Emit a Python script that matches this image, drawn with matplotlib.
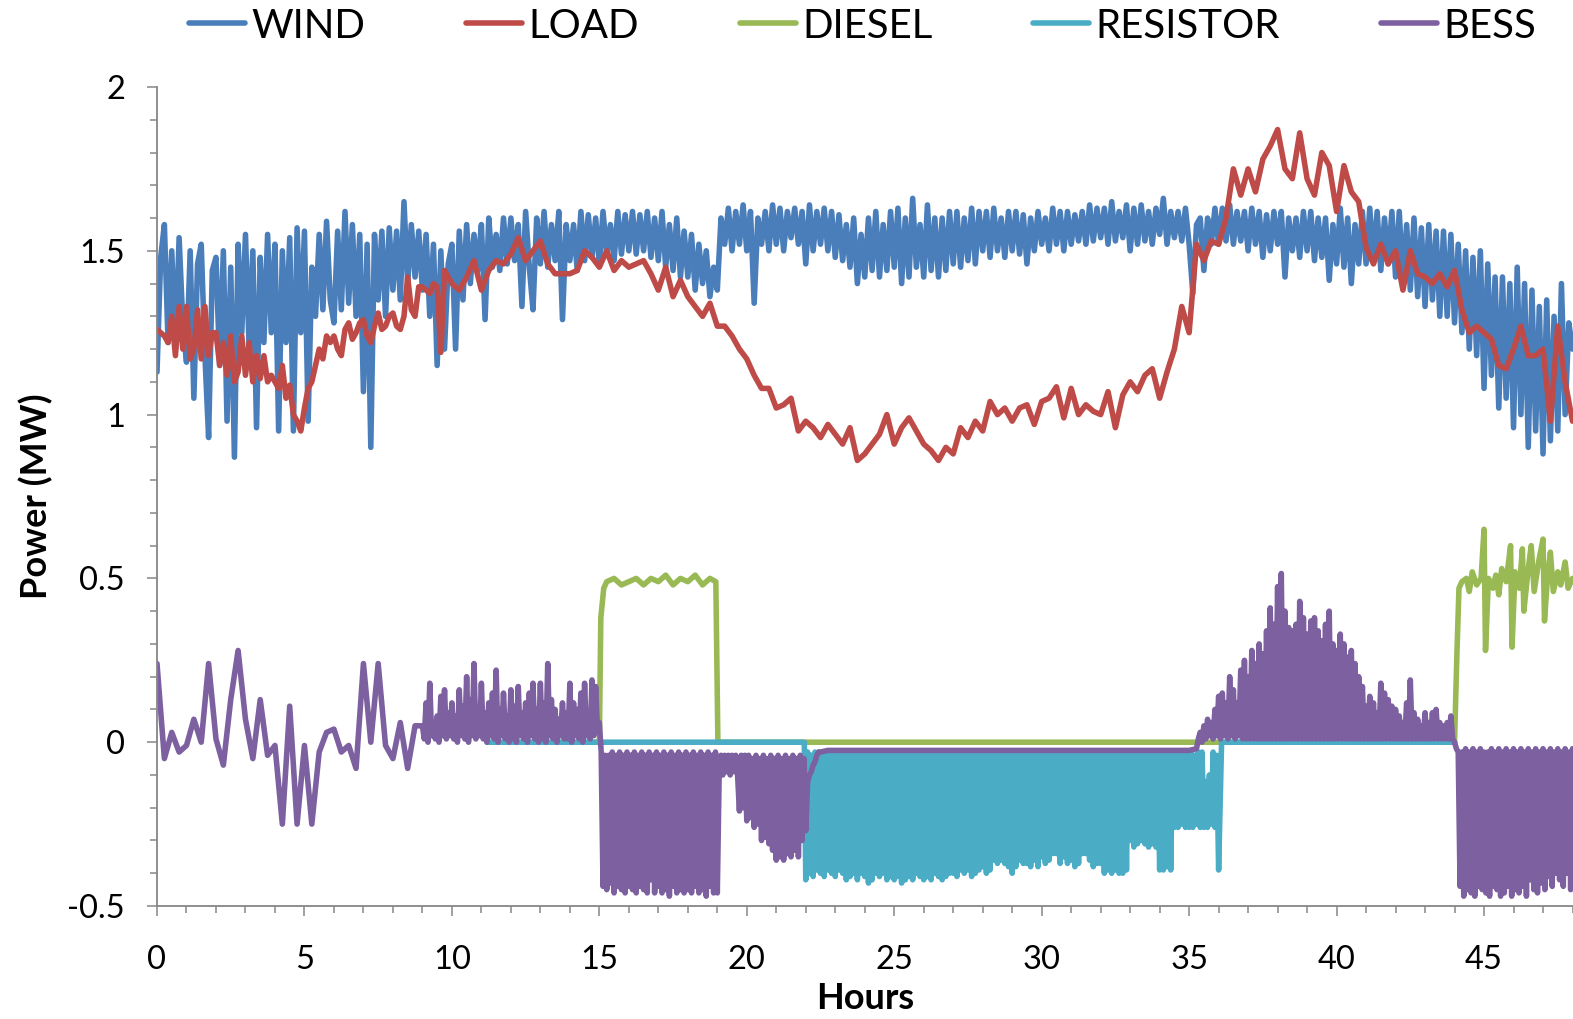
import numpy as np
import matplotlib
matplotlib.use("Agg")
import matplotlib.pyplot as plt
from matplotlib.ticker import MultipleLocator, FixedLocator, FixedFormatter

plt.rcParams['font.family'] = ['Lato', 'DejaVu Sans']

# ---------------- data (MW) ----------------
SERIES = ["WIND", "LOAD", "DIESEL", "RESISTOR", "BESS"]
COLORS = ["#4A7EBB", "#BE4B48", "#98B954", "#4BACC6", "#7D60A0"]

# WIND sampled every 0.125 h from 0 to 48 h (one row = 2 h)
WIND_STEP = 0.125
WIND = [
    1.13, 1.48, 1.58, 1.22, 1.50, 1.20, 1.54, 1.28, 1.16, 1.50, 1.05, 1.46, 1.52, 1.18, 0.93, 1.44,
    1.48, 1.15, 1.50, 0.98, 1.45, 0.87, 1.52, 1.25, 1.55, 1.20, 1.50, 0.96, 1.48, 1.22, 1.55, 1.25,
    1.52, 0.95, 1.50, 1.22, 1.54, 0.95, 1.57, 1.25, 1.56, 0.98, 1.45, 1.30, 1.55, 1.32, 1.59, 1.35,
    1.28, 1.56, 1.32, 1.62, 1.34, 1.58, 1.30, 1.55, 1.07, 1.52, 0.90, 1.55, 1.35, 1.56, 1.30, 1.57,
    1.38, 1.56, 1.35, 1.65, 1.40, 1.58, 1.42, 1.56, 1.38, 1.55, 1.30, 1.52, 1.15, 1.50, 1.20, 1.46,
    1.52, 1.20, 1.56, 1.35, 1.58, 1.40, 1.55, 1.44, 1.58, 1.29, 1.60, 1.45, 1.55, 1.44, 1.60, 1.46,
    1.60, 1.47, 1.58, 1.33, 1.62, 1.45, 1.32, 1.60, 1.46, 1.62, 1.45, 1.58, 1.47, 1.62, 1.29, 1.58,
    1.47, 1.58, 1.44, 1.62, 1.47, 1.61, 1.48, 1.60, 1.46, 1.62, 1.49, 1.58, 1.47, 1.62, 1.49, 1.61,
    1.50, 1.62, 1.49, 1.61, 1.50, 1.62, 1.48, 1.60, 1.47, 1.62, 1.45, 1.58, 1.44, 1.60, 1.42, 1.56,
    1.42, 1.55, 1.38, 1.52, 1.40, 1.50, 1.36, 1.45, 1.38, 1.60, 1.52, 1.63, 1.50, 1.62, 1.52, 1.64,
    1.50, 1.62, 1.34, 1.60, 1.52, 1.62, 1.50, 1.64, 1.52, 1.63, 1.50, 1.62, 1.54, 1.63, 1.52, 1.62,
    1.46, 1.64, 1.50, 1.62, 1.52, 1.63, 1.50, 1.62, 1.48, 1.61, 1.47, 1.58, 1.45, 1.60, 1.40, 1.55,
    1.42, 1.60, 1.44, 1.62, 1.42, 1.58, 1.44, 1.62, 1.45, 1.63, 1.40, 1.60, 1.42, 1.66, 1.45, 1.58,
    1.42, 1.64, 1.44, 1.60, 1.42, 1.60, 1.44, 1.62, 1.46, 1.62, 1.45, 1.60, 1.47, 1.63, 1.46, 1.62,
    1.50, 1.62, 1.48, 1.63, 1.50, 1.60, 1.48, 1.62, 1.50, 1.62, 1.49, 1.61, 1.46, 1.60, 1.50, 1.62,
    1.52, 1.60, 1.50, 1.63, 1.52, 1.62, 1.50, 1.62, 1.52, 1.61, 1.53, 1.62, 1.52, 1.64, 1.53, 1.63,
    1.54, 1.63, 1.52, 1.65, 1.53, 1.62, 1.54, 1.64, 1.50, 1.63, 1.52, 1.64, 1.53, 1.62, 1.52, 1.63,
    1.55, 1.66, 1.52, 1.62, 1.54, 1.62, 1.53, 1.63, 1.52, 1.37, 1.58, 1.60, 1.44, 1.60, 1.52, 1.63,
    1.52, 1.63, 1.53, 1.64, 1.52, 1.62, 1.53, 1.62, 1.50, 1.63, 1.52, 1.62, 1.48, 1.61, 1.50, 1.62,
    1.52, 1.62, 1.42, 1.60, 1.50, 1.60, 1.48, 1.62, 1.50, 1.62, 1.47, 1.60, 1.48, 1.60, 1.41, 1.58,
    1.46, 1.63, 1.45, 1.60, 1.40, 1.58, 1.46, 1.62, 1.46, 1.63, 1.47, 1.62, 1.44, 1.60, 1.46, 1.62,
    1.42, 1.62, 1.40, 1.58, 1.38, 1.60, 1.36, 1.57, 1.33, 1.58, 1.35, 1.56, 1.30, 1.56, 1.30, 1.55,
    1.28, 1.52, 1.25, 1.50, 1.20, 1.48, 1.18, 1.50, 1.08, 1.46, 1.12, 1.42, 1.02, 1.42, 1.05, 1.40,
    0.96, 1.45, 1.00, 1.40, 0.90, 1.38, 0.95, 1.33, 0.88, 1.35, 0.92, 1.30, 0.95, 1.40, 1.00, 1.28,
    1.20,
]

# LOAD: 0-10 h every 0.125 h, then 10.25-48 h every 0.25 h
LOAD1_START, LOAD1_STEP = 0.0, 0.125
LOAD1 = [
    1.26, 1.25, 1.24, 1.22, 1.30, 1.18, 1.33, 1.20, 1.33, 1.17, 1.20, 1.32, 1.17, 1.33, 1.18, 1.25,
    1.25, 1.15, 1.22, 1.12, 1.24, 1.10, 1.13, 1.24, 1.12, 1.22, 1.10, 1.18, 1.11, 1.18, 1.10, 1.12,
    1.10, 1.08, 1.15, 1.05, 1.09, 1.00, 0.98, 0.95, 1.02, 1.08, 1.10, 1.15, 1.20, 1.17, 1.24, 1.22,
    1.24, 1.20, 1.18, 1.26, 1.28, 1.23, 1.25, 1.28, 1.29, 1.24, 1.22, 1.27, 1.31, 1.26, 1.27, 1.30,
    1.31, 1.27, 1.26, 1.30, 1.42, 1.32, 1.30, 1.39, 1.39, 1.38, 1.37, 1.40, 1.39, 1.19, 1.44, 1.42,
    1.40,
]
LOAD2_START, LOAD2_STEP = 10.25, 0.25
LOAD2 = [
    1.38, 1.42, 1.47, 1.38, 1.44, 1.47, 1.46,
    1.49, 1.54, 1.47, 1.50, 1.53, 1.46, 1.43, 1.43,
    1.43, 1.44, 1.50, 1.48, 1.45, 1.50, 1.44, 1.47,
    1.45, 1.46, 1.47, 1.43, 1.38, 1.45, 1.36, 1.41,
    1.36, 1.33, 1.30, 1.34, 1.27, 1.27, 1.24, 1.20,
    1.17, 1.12, 1.08, 1.08, 1.02, 1.03, 1.05, 0.95,
    0.98, 0.96, 0.93, 0.97, 0.94, 0.91, 0.96, 0.86,
    0.88, 0.91, 0.94, 1.00, 0.91, 0.96, 0.99, 0.95,
    0.91, 0.89, 0.86, 0.90, 0.88, 0.96, 0.93, 0.98,
    0.95, 1.04, 1.00, 1.02, 0.98, 1.02, 1.03, 0.97,
    1.04, 1.05, 1.085, 0.99, 1.08, 1.00, 1.03, 1.01,
    1.00, 1.07, 0.96, 1.06, 1.10, 1.07, 1.12, 1.14,
    1.05, 1.13, 1.20, 1.33, 1.25, 1.52, 1.47, 1.53,
    1.52, 1.60, 1.75, 1.67, 1.75, 1.68, 1.78, 1.82,
    1.87, 1.75, 1.72, 1.86, 1.72, 1.67, 1.80, 1.76,
    1.62, 1.76, 1.68, 1.65, 1.51, 1.46, 1.52, 1.46,
    1.50, 1.38, 1.50, 1.43, 1.42, 1.40, 1.43, 1.39,
    1.44, 1.32, 1.25, 1.27, 1.25, 1.23, 1.15, 1.14,
    1.20, 1.27, 1.18, 1.18, 1.20, 0.98, 1.27, 1.10,
    0.98,
]

# DIESEL (hours, MW)
DIESEL_HOURS = [11.2, 15.0, 15.05, 15.15, 15.25, 15.5, 15.75, 16.0, 16.25, 16.5,
                16.75, 17.0, 17.25, 17.5, 17.75, 18.0, 18.25, 18.5, 18.75, 18.95,
                19.02, 44.0, 44.08, 44.15, 44.25, 44.4, 44.5, 44.6, 44.75, 44.9,
                45.0, 45.05, 45.15, 45.3, 45.4, 45.5, 45.6, 45.75, 45.9, 45.95,
                46.05, 46.2, 46.3, 46.35, 46.5, 46.6, 46.7, 46.85, 47.0, 47.05,
                47.15, 47.25, 47.35, 47.5, 47.6, 47.75, 47.85, 48.0]
DIESEL = [0.0, 0.0, 0.38, 0.47, 0.49, 0.50, 0.48, 0.49, 0.50, 0.48,
          0.50, 0.49, 0.51, 0.48, 0.50, 0.49, 0.51, 0.48, 0.50, 0.49,
          0.0, 0.0, 0.27, 0.47, 0.49, 0.50, 0.46, 0.52, 0.48, 0.50,
          0.65, 0.28, 0.50, 0.47, 0.51, 0.45, 0.53, 0.49, 0.60, 0.29,
          0.52, 0.47, 0.59, 0.40, 0.53, 0.60, 0.46, 0.55, 0.62, 0.37,
          0.50, 0.58, 0.46, 0.52, 0.48, 0.55, 0.47, 0.50]

# RESISTOR: idle at 0, active band 22-36 h sampled every 0.0625 h (one row = 1 h)
RES_IDLE1_HOURS = [11.2, 21.95]
RES_IDLE1 = [0.0, 0.0]
RES_BAND_START, RES_BAND_STEP = 22.0, 0.0625
RES_BAND = [
    -0.42, -0.03, -0.40, -0.04, -0.41, -0.03, -0.39, -0.03, -0.40, -0.04, -0.41, -0.03, -0.39, -0.03, -0.40, -0.03,
    -0.41, -0.03, -0.39, -0.04, -0.40, -0.03, -0.42, -0.03, -0.41, -0.04, -0.40, -0.03, -0.42, -0.03, -0.40, -0.04,
    -0.41, -0.03, -0.43, -0.04, -0.42, -0.03, -0.40, -0.03, -0.41, -0.04, -0.40, -0.03, -0.42, -0.03, -0.41, -0.04,
    -0.42, -0.03, -0.41, -0.04, -0.43, -0.03, -0.42, -0.03, -0.41, -0.04, -0.42, -0.03, -0.40, -0.03, -0.41, -0.04,
    -0.42, -0.03, -0.41, -0.04, -0.42, -0.03, -0.40, -0.03, -0.41, -0.04, -0.42, -0.03, -0.41, -0.03, -0.40, -0.04,
    -0.40, -0.03, -0.41, -0.04, -0.39, -0.03, -0.40, -0.03, -0.39, -0.04, -0.41, -0.03, -0.40, -0.03, -0.39, -0.04,
    -0.38, -0.03, -0.40, -0.04, -0.39, -0.03, -0.36, -0.03, -0.37, -0.04, -0.36, -0.03, -0.37, -0.03, -0.38, -0.04,
    -0.40, -0.03, -0.38, -0.04, -0.36, -0.03, -0.37, -0.03, -0.37, -0.04, -0.38, -0.03, -0.36, -0.03, -0.38, -0.04,
    -0.35, -0.03, -0.37, -0.04, -0.36, -0.03, -0.34, -0.03, -0.34, -0.04, -0.37, -0.03, -0.35, -0.03, -0.37, -0.04,
    -0.36, -0.03, -0.38, -0.04, -0.37, -0.03, -0.34, -0.03, -0.34, -0.04, -0.36, -0.03, -0.38, -0.03, -0.37, -0.04,
    -0.37, -0.03, -0.40, -0.04, -0.39, -0.03, -0.40, -0.03, -0.39, -0.04, -0.40, -0.03, -0.40, -0.03, -0.39, -0.04,
    -0.30, -0.03, -0.32, -0.04, -0.31, -0.03, -0.30, -0.03, -0.31, -0.04, -0.32, -0.03, -0.31, -0.03, -0.32, -0.04,
    -0.39, -0.03, -0.39, -0.04, -0.38, -0.03, -0.39, -0.03, -0.26, -0.04, -0.26, -0.03, -0.25, -0.03, -0.26, -0.04,
    -0.26, -0.03, -0.26, -0.04, -0.25, -0.03, -0.26, -0.03, -0.26, -0.12, -0.26, -0.10, -0.25, -0.03, -0.26, -0.04,
    -0.39,
]
RES_IDLE2_HOURS = [36.1, 44.0]
RES_IDLE2 = [0.0, 0.0]

# BESS, in pieces of different sampling
BESS1_START, BESS1_STEP = 0.0, 0.25
BESS1 = [
    0.24, -0.05, 0.03, -0.03, -0.01, 0.07, 0.00, 0.24,
    0.01, -0.07, 0.13, 0.28, 0.07, -0.05, 0.13, -0.04,
    -0.01, -0.25, 0.11, -0.25, -0.01, -0.25, -0.03, 0.03,
    0.04, -0.03, -0.01, -0.08, 0.24, 0.00, 0.24, -0.01,
    -0.05, 0.06, -0.08, 0.05,
]
BESS2_START, BESS2_STEP = 9.0, 0.0625
BESS2 = [
    0.05, 0.01, 0.12, 0.00, 0.18, 0.02, 0.06, 0.01, 0.08, 0.00, 0.14, 0.02, 0.16, 0.01, 0.09, 0.02,
    0.12, 0.01, 0.08, 0.00, 0.16, 0.02, 0.11, 0.01, 0.20, 0.00, 0.13, 0.02, 0.24, 0.01, 0.10, 0.02,
    0.18, 0.01, 0.09, 0.00, 0.12, 0.02, 0.15, 0.01, 0.22, 0.00, 0.10, 0.02, 0.15, 0.01, 0.08, 0.00,
    0.16, 0.01, 0.11, 0.00, 0.17, 0.02, 0.09, 0.01, 0.12, 0.00, 0.15, 0.02, 0.18, 0.01, 0.10, 0.00,
    0.18, 0.01, 0.12, 0.00, 0.24, 0.02, 0.13, 0.01, 0.10, 0.00, 0.07, 0.02, 0.12, 0.01, 0.09, 0.01,
    0.18, 0.00, 0.12, 0.02, 0.10, 0.01, 0.15, 0.00, 0.18, 0.02, 0.09, 0.01, 0.19, 0.02, 0.17, 0.03,
    0.06,
]
BESS3_START, BESS3_STEP = 15.0625, 0.0625
BESS3 = [
    -0.03, -0.44, -0.04, -0.45, -0.04, -0.43, -0.03, -0.46, -0.04, -0.44, -0.03, -0.45, -0.04, -0.46, -0.03, -0.44,
    -0.04, -0.45, -0.03, -0.46, -0.04, -0.44, -0.03, -0.45, -0.04, -0.46, -0.03, -0.42, -0.04, -0.46, -0.03, -0.44,
    -0.04, -0.46, -0.03, -0.45, -0.04, -0.47, -0.03, -0.44, -0.04, -0.46, -0.03, -0.45, -0.04, -0.46, -0.03, -0.45,
    -0.04, -0.46, -0.03, -0.44, -0.04, -0.46, -0.03, -0.45, -0.04, -0.47, -0.03, -0.44, -0.04, -0.46, -0.03, -0.46,
    -0.10, -0.04, -0.10, -0.04, -0.09, -0.04, -0.10, -0.04, -0.09, -0.04, -0.10, -0.21, -0.04, -0.20, -0.04, -0.24,
    -0.04, -0.23, -0.05, -0.26, -0.04, -0.25, -0.05, -0.30, -0.04, -0.29, -0.05, -0.31, -0.04, -0.33, -0.05, -0.36,
    -0.04, -0.35, -0.05, -0.36, -0.04, -0.34, -0.05, -0.35, -0.04, -0.33, -0.05, -0.35, -0.04, -0.30, -0.05, -0.27,
    -0.12, -0.10, -0.09, -0.07, -0.06, -0.04, -0.03, -0.03,
]
BESS4_HOURS = [22.75, 35.0]
BESS4 = [-0.025, -0.025]
BESS5_START, BESS5_STEP = 35.25, 0.0625
BESS5 = [
    -0.02, 0.01, 0.03, 0.00, 0.05, 0.01, 0.07, 0.02, 0.06, 0.01, 0.10, 0.02,
    0.14, 0.01, 0.15, 0.02, 0.12, 0.01, 0.20, 0.02, 0.16, 0.01, 0.12, 0.02, 0.22, 0.01, 0.25, 0.01,
    0.20, 0.01, 0.28, 0.01, 0.24, 0.01, 0.30, 0.01, 0.27, 0.01, 0.34, 0.01, 0.41, 0.01, 0.36, 0.01,
    0.475, 0.01, 0.515, 0.01, 0.40, 0.01, 0.35, 0.01, 0.34, 0.01, 0.36, 0.01, 0.43, 0.01, 0.38, 0.01,
    0.33, 0.01, 0.37, 0.01, 0.38, 0.01, 0.34, 0.01, 0.31, 0.01, 0.36, 0.01, 0.40, 0.01, 0.30, 0.01,
    0.28, 0.01, 0.33, 0.01, 0.30, 0.01, 0.26, 0.01, 0.28, 0.01, 0.24, 0.01, 0.20, 0.01, 0.17, 0.01,
    0.11, 0.01, 0.14, 0.01, 0.12, 0.01, 0.09, 0.01, 0.18, 0.01, 0.15, 0.01, 0.13, 0.01, 0.11, 0.01,
    0.10, 0.01, 0.08, 0.01, 0.06, 0.01, 0.12, 0.01, 0.19, 0.01, 0.09, 0.01, 0.07, 0.01, 0.05, 0.01,
    0.09, 0.01, 0.06, 0.01, 0.09, 0.01, 0.10, 0.01, 0.06, 0.01, 0.05, 0.01, 0.06, 0.01, 0.08, 0.01,
    0.00,
]
BESS6_START, BESS6_STEP = 44.0625, 0.0625
BESS6 = [
    -0.02, -0.03, -0.44, -0.03, -0.47, -0.02, -0.45, -0.03, -0.46, -0.02, -0.47, -0.03, -0.44, -0.02, -0.45, -0.03,
    -0.46, -0.03, -0.47, -0.02, -0.44, -0.03, -0.45, -0.02, -0.47, -0.03, -0.46, -0.02, -0.44, -0.03, -0.47, -0.02,
    -0.45, -0.03, -0.46, -0.02, -0.44, -0.03, -0.47, -0.02, -0.42, -0.03, -0.45, -0.02, -0.46, -0.03, -0.43, -0.02,
    -0.45, -0.03, -0.41, -0.02, -0.44, -0.03, -0.40, -0.02, -0.42, -0.03, -0.44, -0.02, -0.40, -0.03, -0.45, -0.02,
]

X_TICKS = [0, 5, 10, 15, 20, 25, 30, 35, 40, 45]
Y_TICKS = [-0.5, 0, 0.5, 1, 1.5, 2]
Y_TICK_LABELS = ["-0.5", "0", "0.5", "1", "1.5", "2"]

# ---------------- assemble series ----------------
def grid(start, step, vals):
    return start + step * np.arange(len(vals))

wind_hours = grid(0.0, WIND_STEP, WIND)
load_hours = np.concatenate([grid(LOAD1_START, LOAD1_STEP, LOAD1), grid(LOAD2_START, LOAD2_STEP, LOAD2)])
load_vals = np.concatenate([LOAD1, LOAD2])
res_hours = np.concatenate([RES_IDLE1_HOURS, grid(RES_BAND_START, RES_BAND_STEP, RES_BAND), RES_IDLE2_HOURS])
res_vals = np.concatenate([RES_IDLE1, RES_BAND, RES_IDLE2])
bess_hours = np.concatenate([grid(BESS1_START, BESS1_STEP, BESS1), grid(BESS2_START, BESS2_STEP, BESS2),
                             grid(BESS3_START, BESS3_STEP, BESS3), BESS4_HOURS,
                             grid(BESS5_START, BESS5_STEP, BESS5), grid(BESS6_START, BESS6_STEP, BESS6)])
bess_vals = np.concatenate([BESS1, BESS2, BESS3, BESS4, BESS5, BESS6])

data = [
    (wind_hours, WIND),
    (load_hours, load_vals),
    (DIESEL_HOURS, DIESEL),
    (res_hours, res_vals),
    (bess_hours, bess_vals),
]

# ---------------- figure ----------------
W, H = 1573, 1019
fig = plt.figure(figsize=(W / 100, H / 100), dpi=100)
ax = fig.add_axes([157 / W, 1 - 906 / H, (1572.5 - 157) / W, (906 - 87) / H])

handles = []
for (x, y), name, c in zip(data, SERIES, COLORS):
    ln, = ax.plot(x, y, color=c, lw=4.0, solid_joinstyle="round", solid_capstyle="round", label=name)
    handles.append(ln)

ax.set_xlim(0, 48)
ax.set_ylim(-0.5, 2)
ax.xaxis.set_major_locator(FixedLocator(X_TICKS))
ax.xaxis.set_minor_locator(MultipleLocator(1))
ax.yaxis.set_major_locator(FixedLocator(Y_TICKS))
ax.yaxis.set_major_formatter(FixedFormatter(Y_TICK_LABELS))
ax.yaxis.set_minor_locator(MultipleLocator(0.1))

for s in ["top", "right"]:
    ax.spines[s].set_visible(False)
for s in ["left", "bottom"]:
    ax.spines[s].set_color("#868686")
    ax.spines[s].set_linewidth(1.3)

ax.tick_params(which="both", direction="out", color="#868686", width=1.1)
ax.tick_params(which="major", length=7, labelsize=23.5)
ax.tick_params(which="minor", length=5)
ax.tick_params(axis="x", which="major", pad=21)
ax.tick_params(axis="y", which="major", pad=16)

ax.set_xlabel("Hours", fontsize=26, fontweight="bold", labelpad=5)
ax.set_ylabel("Power (MW)", fontsize=26, fontweight="bold", labelpad=10)

fig.legend(handles=handles, loc="center", bbox_to_anchor=((157 + 1568) / 2 / W, 1 - 26 / H),
           ncol=5, frameon=False, fontsize=29, handlelength=1.4, handletextpad=0.15,
           columnspacing=2.5, borderpad=0, borderaxespad=0)

fig.savefig("out.png", dpi=100)
